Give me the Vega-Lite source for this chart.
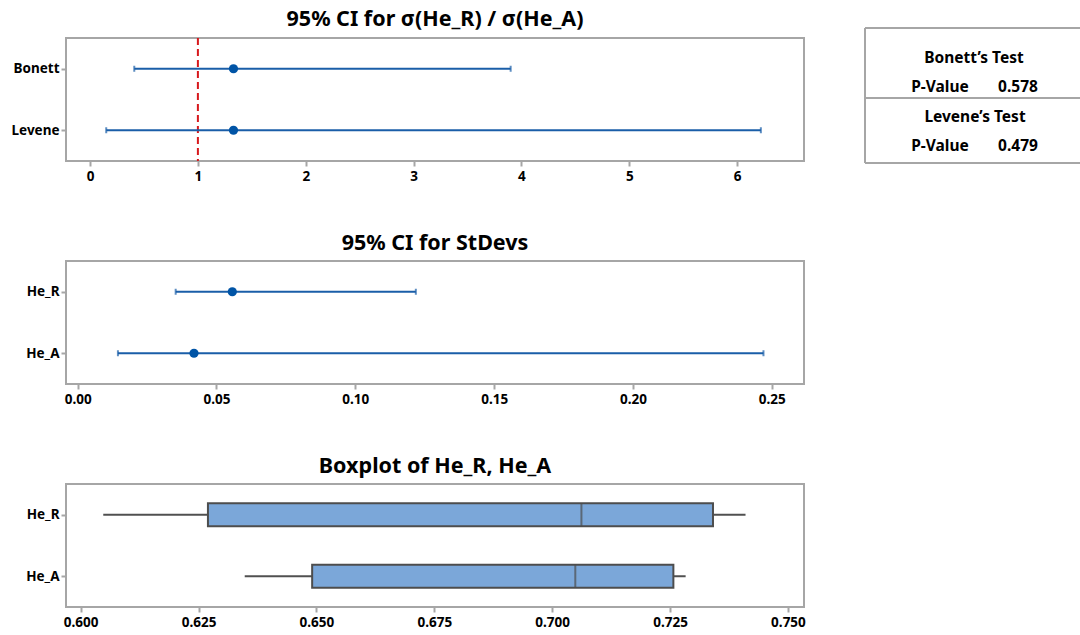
{
  "$schema": "https://vega.github.io/schema/vega-lite/v6.json",
  "padding": {"left": 10, "top": 7, "right": 0, "bottom": 1},
  "background": "white",
  "config": {
    "font": "Noto Sans",
    "view": {"stroke": "#a6a6a6", "strokeWidth": 2},
    "axis": {"labelFont": "Noto Sans", "labelFontSize": 13.5, "labelFontWeight": "bold", "labelColor": "#000000", "tickColor": "#a6a6a6", "tickWidth": 2, "tickSize": 5, "domain": false, "grid": false, "title": null, "labelPadding": 3},
    "title": {"font": "Noto Sans", "fontSize": 21.5, "fontWeight": "bold", "color": "#000000", "frame": "group", "anchor": "middle", "offset": 7}
  },
  "datasets": {
    "ratio": [
      {"method": "Bonett", "lower": 0.41, "est": 1.33, "upper": 3.9},
      {"method": "Levene", "lower": 0.15, "est": 1.33, "upper": 6.22}
    ],
    "refline": [{"ref": 1}],
    "sd": [
      {"var": "He_R", "lower": 0.0353, "est": 0.0557, "upper": 0.1218},
      {"var": "He_A", "lower": 0.0145, "est": 0.0419, "upper": 0.247}
    ],
    "box": [
      {"var": "He_R", "min": 0.6048, "q1": 0.627, "median": 0.7062, "q3": 0.7341, "max": 0.741},
      {"var": "He_A", "min": 0.6348, "q1": 0.6491, "median": 0.7049, "q3": 0.7257, "max": 0.7283}
    ],
    "tabletext": [
      {"label": "Bonett’s Test", "tx": 109, "ty": 30},
      {"label": "P-Value", "tx": 75, "ty": 59},
      {"label": "0.578", "tx": 153, "ty": 59},
      {"label": "Levene’s Test", "tx": 110, "ty": 89},
      {"label": "P-Value", "tx": 75, "ty": 118},
      {"label": "0.479", "tx": 153, "ty": 118}
    ],
    "tablelines": [
      {"x1": 0, "x2": 216, "y1": 0, "y2": 0},
      {"x1": 0, "x2": 216, "y1": 70, "y2": 70},
      {"x1": 0, "x2": 216, "y1": 135, "y2": 135},
      {"x1": 0, "x2": 0, "y1": 0, "y2": 135}
    ]
  },
  "hconcat": [
    {
      "vconcat": [
        {
          "title": {"text": "95% CI for σ(He_R) / σ(He_A)"},
          "width": 738,
          "height": 123,
          "layer": [
            {
              "data": {"name": "refline"},
              "mark": {"type": "rule", "color": "#d7191c", "strokeDash": [7, 4], "strokeWidth": 2},
              "encoding": {"x": {"field": "ref", "type": "quantitative", "scale": {"domain": [-0.223, 6.62], "nice": false, "zero": false}, "axis": {"values": [0, 1, 2, 3, 4, 5, 6], "format": "d"}}}
            },
            {
              "data": {"name": "ratio"},
              "mark": {"type": "rule", "color": "#1a5ea8", "strokeWidth": 2},
              "encoding": {
                "y": {"field": "method", "type": "nominal", "sort": ["Bonett", "Levene"], "scale": {"type": "point", "padding": 0.5}, "axis": {"labelPadding": 2}},
                "x": {"field": "lower", "type": "quantitative"},
                "x2": {"field": "upper"}
              }
            },
            {
              "data": {"name": "ratio"},
              "mark": {"type": "tick", "orient": "vertical", "color": "#1a5ea8", "size": 6, "thickness": 2},
              "encoding": {
                "y": {"field": "method", "type": "nominal", "sort": ["Bonett", "Levene"]},
                "x": {"field": "lower", "type": "quantitative"}
              }
            },
            {
              "data": {"name": "ratio"},
              "mark": {"type": "tick", "orient": "vertical", "color": "#1a5ea8", "size": 6, "thickness": 2},
              "encoding": {
                "y": {"field": "method", "type": "nominal", "sort": ["Bonett", "Levene"]},
                "x": {"field": "upper", "type": "quantitative"}
              }
            },
            {
              "data": {"name": "ratio"},
              "mark": {"type": "point", "filled": true, "color": "#0054a6", "size": 85, "opacity": 1},
              "encoding": {
                "y": {"field": "method", "type": "nominal", "sort": ["Bonett", "Levene"]},
                "x": {"field": "est", "type": "quantitative"}
              }
            }
          ]
        },
        {
          "title": {"text": "95% CI for StDevs"},
          "width": 738,
          "height": 123,
          "data": {"name": "sd"},
          "layer": [
            {
              "mark": {"type": "rule", "color": "#1a5ea8", "strokeWidth": 2},
              "encoding": {
                "y": {"field": "var", "type": "nominal", "sort": ["He_R", "He_A"], "scale": {"type": "point", "padding": 0.5}, "axis": {"labelPadding": 2}},
                "x": {"field": "lower", "type": "quantitative", "scale": {"domain": [-0.0042, 0.2616], "nice": false, "zero": false}, "axis": {"values": [0, 0.05, 0.1, 0.15, 0.2, 0.25], "format": ".2f"}},
                "x2": {"field": "upper"}
              }
            },
            {
              "mark": {"type": "tick", "orient": "vertical", "color": "#1a5ea8", "size": 6, "thickness": 2},
              "encoding": {
                "y": {"field": "var", "type": "nominal", "sort": ["He_R", "He_A"]},
                "x": {"field": "lower", "type": "quantitative"}
              }
            },
            {
              "mark": {"type": "tick", "orient": "vertical", "color": "#1a5ea8", "size": 6, "thickness": 2},
              "encoding": {
                "y": {"field": "var", "type": "nominal", "sort": ["He_R", "He_A"]},
                "x": {"field": "upper", "type": "quantitative"}
              }
            },
            {
              "mark": {"type": "point", "filled": true, "color": "#0054a6", "size": 85, "opacity": 1},
              "encoding": {
                "y": {"field": "var", "type": "nominal", "sort": ["He_R", "He_A"]},
                "x": {"field": "est", "type": "quantitative"}
              }
            }
          ]
        },
        {
          "title": {"text": "Boxplot of He_R, He_A"},
          "width": 738,
          "height": 123,
          "data": {"name": "box"},
          "layer": [
            {
              "mark": {"type": "rule", "color": "#505050", "strokeWidth": 2},
              "encoding": {
                "y": {"field": "var", "type": "nominal", "sort": ["He_R", "He_A"], "scale": {"type": "point", "padding": 0.5}, "axis": {"labelPadding": 2}},
                "x": {"field": "min", "type": "quantitative", "scale": {"domain": [0.5969, 0.7534], "nice": false, "zero": false}, "axis": {"values": [0.6, 0.625, 0.65, 0.675, 0.7, 0.725, 0.75], "format": ".3f"}},
                "x2": {"field": "q1"}
              }
            },
            {
              "mark": {"type": "rule", "color": "#505050", "strokeWidth": 2},
              "encoding": {
                "y": {"field": "var", "type": "nominal", "sort": ["He_R", "He_A"]},
                "x": {"field": "q3", "type": "quantitative"},
                "x2": {"field": "max"}
              }
            },
            {
              "mark": {"type": "bar", "fill": "#7ba7d9", "stroke": "#4d4d4d", "strokeWidth": 2, "size": 23},
              "encoding": {
                "y": {"field": "var", "type": "nominal", "sort": ["He_R", "He_A"]},
                "x": {"field": "q1", "type": "quantitative"},
                "x2": {"field": "q3"}
              }
            },
            {
              "mark": {"type": "tick", "orient": "vertical", "color": "#4d4d4d", "size": 23, "thickness": 2},
              "encoding": {
                "y": {"field": "var", "type": "nominal", "sort": ["He_R", "He_A"]},
                "x": {"field": "median", "type": "quantitative"}
              }
            }
          ]
        }
      ],
      "spacing": 100,
      "bounds": "flush"
    },
    {
      "width": 216,
      "height": 123,
      "view": {"stroke": null},
      "layer": [
        {
          "data": {"name": "tablelines"},
          "mark": {"type": "rule", "color": "#a6a6a6", "strokeWidth": 2},
          "encoding": {
            "x": {"field": "x1", "type": "quantitative", "scale": {"domain": [0, 216], "range": [0, 216], "nice": false, "zero": false}, "axis": null},
            "x2": {"field": "x2"},
            "y": {"field": "y1", "type": "quantitative", "scale": {"domain": [0, 135], "range": [-10, 125], "nice": false, "zero": false}, "axis": null},
            "y2": {"field": "y2"}
          }
        },
        {
          "data": {"name": "tabletext"},
          "mark": {"type": "text", "font": "Noto Sans", "fontSize": 15.5, "fontWeight": "bold", "color": "#000000", "align": "center", "baseline": "middle"},
          "encoding": {
            "x": {"field": "tx", "type": "quantitative"},
            "y": {"field": "ty", "type": "quantitative"},
            "text": {"field": "label"}
          }
        }
      ]
    }
  ],
  "spacing": 57,
  "bounds": "full"
}
